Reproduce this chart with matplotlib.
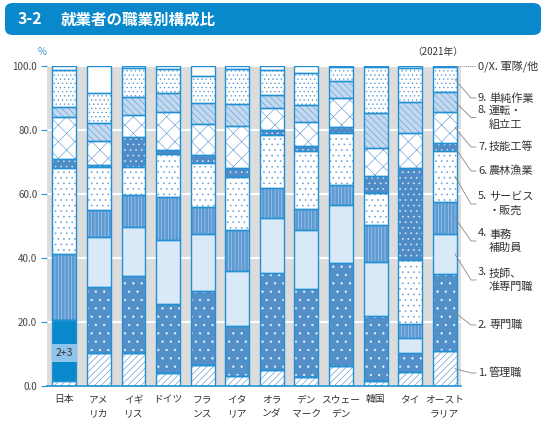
import numpy as np
import matplotlib
matplotlib.use("Agg")
import matplotlib.pyplot as plt
from matplotlib.patches import FancyBboxPatch
from matplotlib.lines import Line2D

plt.rcParams['font.family'] = ['Noto Sans CJK JP', 'DejaVu Sans']
plt.rcParams['hatch.linewidth'] = 0.45

# data (share of workers, %)
countries = ["日本", "アメ\nリカ", "イギ\nリス", "ドイツ", "フラ\nンス", "イタ\nリア",
             "オラ\nンダ", "デン\nマーク", "スウェー\nデン", "韓国", "タイ", "オースト\nラリア"]

managers     = [1.6, 10.4, 10.4, 4.0, 6.6, 3.2, 5.0, 2.7, 6.4, 1.6, 4.3, 10.9]
pro_tech_jp  = [19.0, 0, 0, 0, 0, 0, 0, 0, 0, 0, 0, 0]   # Japan: 2+3 combined
professional = [0, 20.6, 24.0, 21.6, 23.2, 15.6, 30.2, 27.6, 31.9, 20.3, 5.9, 24.1]
technician   = [0, 15.7, 15.2, 20.0, 17.6, 17.1, 17.2, 18.5, 18.3, 17.0, 4.7, 12.5]
clerical     = [20.6, 8.3, 10.1, 13.6, 8.6, 12.9, 9.4, 6.5, 6.2, 11.4, 4.4, 10.1]
service      = [26.8, 13.5, 8.8, 13.2, 13.6, 16.6, 16.6, 18.1, 16.4, 9.9, 20.1, 15.8]
agriculture  = [2.9, 0.6, 9.4, 1.4, 2.6, 2.6, 1.6, 1.6, 1.8, 5.4, 28.6, 2.4]
craft        = [13.1, 7.6, 6.8, 11.7, 9.7, 13.3, 7.0, 7.4, 9.1, 8.7, 11.0, 9.9]
operators    = [3.1, 5.4, 5.5, 6.0, 6.4, 6.8, 3.9, 5.4, 5.2, 10.9, 9.9, 6.3]
elementary   = [11.7, 9.6, 9.2, 7.6, 8.7, 11.0, 7.8, 9.9, 4.3, 14.4, 10.4, 7.6]
other        = [1.2, 8.3, 0.6, 0.9, 3.0, 0.9, 1.2, 2.3, 0.4, 0.4, 0.7, 0.4]

legend_labels = ["0/X. 軍隊/他", "9. 単純作業", "8. 運転・\n組立工", "7. 技能工等", "6. 農林漁業",
                 "5. サービス\n・販売", "4. 事務\n補助員", "3. 技師、\n准専門職", "2. 専門職", "1. 管理職"]

# (values, face, hatch, hatch colour)
series = [
    (managers,     "white",   "/////", "#5a96d0"),
    (pro_tech_jp,  "#0a88cc", "",      "#0a88cc"),
    (professional, "#5390c9", "..",    "#e8f1fa"),
    (technician,   "#d9e9f7", "",      "#d9e9f7"),
    (clerical,     "#5f9bd2", "|||||", "#a9cdee"),
    (service,      "white",   "...",   "#6a9fd3"),
    (agriculture,  "#4f8cc7", "...",   "#dbe9f7"),
    (craft,        "white",   "xx",    "#6a9fd3"),
    (operators,    "#c2d9ef", "\\\\\\\\\\", "#6a9fd3"),
    (elementary,   "white",   "....",  "#5a96d0"),
    (other,        "white",   "",      "white"),
]

W, H = 543, 423
fig = plt.figure(figsize=(W / 100, H / 100), dpi=100)


def fx(px):
    return px / W


def fy(py):
    return 1 - py / H


ax = fig.add_axes([fx(47), fy(386), fx(461) - fx(47), fy(66) - fy(386)])
ax.set_facecolor("#dcdcdc")
x = np.arange(len(countries))
bw = 0.69
outline = "#2291d4"

bottom = np.zeros(len(countries))
segs = []
for vals, face, hatch, hc in series:
    v = np.array(vals, dtype=float)
    ax.bar(x, v, bw, bottom=bottom, color=face, edgecolor=hc, hatch=hatch,
           linewidth=0, zorder=2)
    ax.bar(x, v, bw, bottom=bottom, facecolor="none", edgecolor=outline,
           linewidth=1.0, zorder=3)
    segs.append((bottom.copy(), v))
    bottom = bottom + v

# 2+3 label on Japan
ax.text(0, 10.3, "2+3", ha="center", va="center", fontsize=7.5, color="#333333",
        bbox=dict(boxstyle="square,pad=0.35", fc="#8fc4ea", ec="none"), zorder=5)

ax.set_xlim(-0.5, 11.47)
ax.set_ylim(0, 100)
ax.set_yticks([0, 20, 40, 60, 80, 100])
ax.set_yticklabels(["%.1f" % t for t in [0, 20, 40, 60, 80, 100]])
ax.yaxis.grid(True, color="white", linewidth=1.5)
ax.set_axisbelow(True)
ax.tick_params(axis="y", length=4, color=outline, labelsize=7, labelcolor="#444444", pad=3)
ax.set_xticks(x)
ax.set_xticklabels(countries, fontsize=7, color="#333333", linespacing=1.5)
ax.tick_params(axis="x", length=0, pad=6)
for s in ["top", "right", "left"]:
    ax.spines[s].set_visible(False)
ax.spines["bottom"].set_color(outline)
ax.spines["bottom"].set_linewidth(1.2)

# legend labels with leader lines from the last bar
label_y = [66, 98, 117.5, 147, 171, 204, 241, 280, 325, 373]
seg_idx = [10, 9, 8, 7, 6, 5, 4, 3, 2, 0]
inv = fig.transFigure.inverted()
for lab, ly, si in zip(legend_labels, label_y, seg_idx):
    b, v = segs[si]
    mid = b[-1] + v[-1] / 2
    sx, sy = inv.transform(ax.transData.transform((11 + bw / 2 - 0.05, mid)))
    if si == 10:
        fig.add_artist(Line2D([sx, fx(475)], [fy(ly), fy(ly)], color="#888888",
                              lw=0.6, ls=(0, (1.5, 1))))
        fig.text(fx(478), fy(ly), lab, fontsize=8, color="#333333",
                 ha="left", va="center")
        continue
    fig.add_artist(Line2D([sx, fx(471), fx(476)], [sy, fy(ly), fy(ly)],
                          color="#888888", lw=0.6))
    num, rest = lab.split(" ", 1)
    lines = rest.split("\n")
    fig.text(fx(478), fy(ly - (len(lines) - 1) * 7.7), num, fontsize=8, color="#333333",
             ha="left", va="center")
    fig.text(fx(489), fy(ly), rest, fontsize=8,
             color="#333333", ha="left", va="center", linespacing=1.4)

fig.text(fx(42), fy(52), "%", fontsize=7, color="#3d8fc8", ha="center", va="center")
fig.text(fx(463), fy(52), "（2021年）", fontsize=7, color="#333333", ha="right", va="center")

# title bar
bar = FancyBboxPatch((fx(5), fy(35)), fx(536), fy(3) - fy(35),
                     boxstyle="round,pad=0,rounding_size=0.015",
                     transform=fig.transFigure, fc="#0a88cc", ec="none")
fig.add_artist(bar)
fig.text(fx(18), fy(19.5), "3-2", fontsize=11.5, color="white", fontweight="bold",
         ha="left", va="center")
fig.text(fx(61), fy(19.5), "就業者の職業別構成比", fontsize=11.2, color="white",
         fontweight="bold", ha="left", va="center")

fig.savefig("out.png", dpi=100)
